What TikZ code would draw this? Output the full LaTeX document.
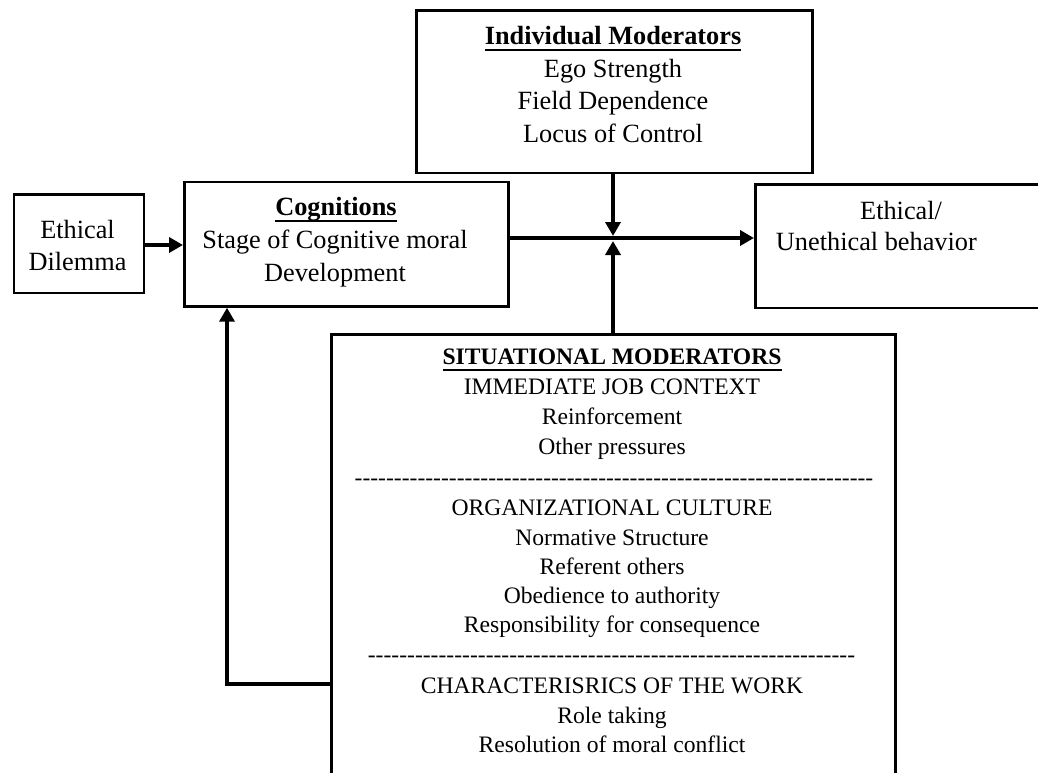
\documentclass[tikz,border=0pt]{standalone}
\usepackage{fontspec}
\setmainfont{Liberation Serif}
\usetikzlibrary{arrows.meta}
\newcommand{\hul}[1]{\setbox0\hbox{#1}\rlap{\rule[-6.5pt]{\wd0}{2pt}}\box0}
\newcommand{\hyps}[1]{\foreach \k in {1,...,#1}{\hbox{-}}}
\newcommand{\topfont}{\fontsize{26.3}{32.5}\selectfont}
\newcommand{\sitfont}{\fontsize{23.6}{29.5}\selectfont}
\tikzset{
  box/.style={draw, line width=2.7pt, inner sep=0pt, anchor=north west},
  arr/.style={line width=3.8pt, -{Triangle[length=14pt,width=15pt]}},
  tt/.style={inner sep=0pt, anchor=base, font=\topfont},
  st/.style={inner sep=0pt, anchor=base, font=\sitfont}
}
\begin{document}
\begin{tikzpicture}[x=1pt,y=-1pt]
\path[use as bounding box, clip] (0,0) rectangle (1038,773);
\fill[white] (0,0) rectangle (1038,773);
% boxes
\node[box, minimum width=130pt, minimum height=98.4pt] (dil) at (12.7,193.3) {};
\node[box, minimum width=324pt, minimum height=124.5pt] (cog) at (183,180.5) {};
\node[box, minimum width=396pt, minimum height=162.4pt] (ind) at (415,9.3) {};
\node[box, minimum width=320pt, minimum height=123.4pt] (eth) at (754,183.3) {};
\node[box, minimum width=564pt, minimum height=500pt] (sit) at (330,333) {};
% texts: individual moderators
\node[tt] (i1) at (613,45) {\hul{\textbf{Individual Moderators}}};
\node[tt] (i2) at (613,77.3) {Ego Strength};
\node[tt] (i3) at (613,110) {Field Dependence};
\node[tt] (i4) at (613,142.5) {Locus of Control};
% ethical dilemma
\node[tt] (d1) at (77.5,238.3) {Ethical};
\node[tt] (d2) at (77.5,270.7) {Dilemma};
% cognitions
\node[tt] (c1) at (336,215) {\hul{\textbf{Cognitions}}};
\node[tt] (c2) at (335,248) {Stage of Cognitive moral};
\node[tt] (c3) at (335,281.7) {Development};
% ethical behaviour
\node[tt, anchor=base west] (e1) at (860,219.3) {Ethical/};
\node[tt, anchor=base east] (e2) at (977,250.7) {Unethical behavior};
% situational moderators
\node[st] (s1) at (612,364.3) {\hul{\textbf{SITUATIONAL MODERATORS}}};
\node[st] (s2) at (612,394.5) {IMMEDIATE JOB CONTEXT};
\node[st] (s3) at (612,424.3) {Reinforcement};
\node[st] (s4) at (612,454.3) {Other pressures};
\node[st] (s5) at (614,485) {\hyps{66}};
\node[st] (s6) at (612,515) {ORGANIZATIONAL CULTURE};
\node[st] (s7) at (612,545) {Normative Structure};
\node[st] (s8) at (612,574.3) {Referent others};
\node[st] (s9) at (612,603.7) {Obedience to authority};
\node[st] (s10) at (612,632.7) {Responsibility for consequence};
\node[st] (s11) at (611.5,662.7) {\hyps{62}};
\node[st] (s12) at (612,693.3) {CHARACTERISRICS OF THE WORK};
\node[st] (s13) at (612,723.3) {Role taking};
\node[st] (s14) at (612,752.3) {Resolution of moral conflict};
% connectors
\coordinate (a1) at (0,245);
\coordinate (j) at (613,238);
\coordinate (fb) at (227,684.3);
\draw[arr] (dil.east|-a1) -- (cog.west|-a1);
\draw[arr] (cog.east|-j) -- (eth.west|-j);
\draw[arr] (ind.south-|j) -- ([yshift=2pt]j);
\draw[arr] (sit.north-|j) -- ([yshift=-3pt]j);
\draw[arr] (sit.west|-fb) -- (fb) -- (cog.south-|fb);
\end{tikzpicture}
\end{document}
